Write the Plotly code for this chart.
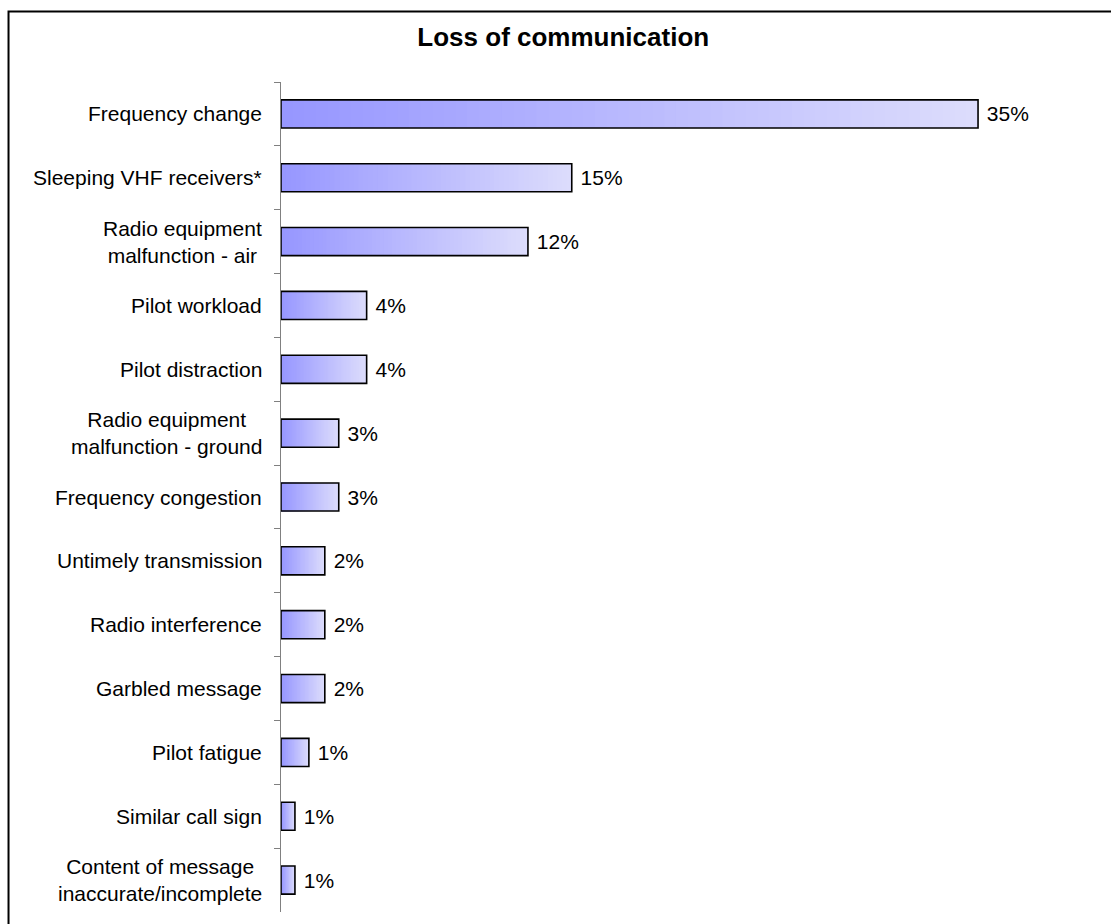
import plotly.graph_objects as go

# Causes of loss of communication, share of reports (%)
categories = [
    "Frequency change",
    "Sleeping VHF receivers*",
    "Radio equipment<br>malfunction - air",
    "Pilot workload",
    "Pilot distraction",
    "Radio equipment<br>malfunction - ground",
    "Frequency congestion",
    "Untimely transmission",
    "Radio interference",
    "Garbled message",
    "Pilot fatigue",
    "Similar call sign",
    "Content of message<br>inaccurate/incomplete",
]
shares = [35.0, 14.6, 12.4, 4.3, 4.3, 2.9, 2.9, 2.2, 2.2, 2.2, 1.4, 0.7, 0.7]

FONT = "Liberation Sans, Arial, sans-serif"
DARK = (150, 150, 255)
LIGHT = (221, 221, 252)
N_STEPS = 60


def lerp(t):
    return "rgb({},{},{})".format(*[round(a + (b - a) * t) for a, b in zip(DARK, LIGHT)])


fig = go.Figure()

# Horizontal gradient: overlaid bars of decreasing length, each one darker,
# so the visible strip of each bar carries one step of the ramp.
for i in range(N_STEPS):
    frac = (N_STEPS - i) / N_STEPS
    k = N_STEPS - i - 1
    fig.add_trace(go.Bar(
        x=[v * frac for v in shares],
        y=categories,
        orientation="h",
        marker=dict(color=lerp((k + 0.5) / N_STEPS), line=dict(width=0)),
        width=0.44,
        hoverinfo="skip",
        showlegend=False,
    ))

# Outline and value labels
fig.add_trace(go.Bar(
    x=shares,
    y=categories,
    orientation="h",
    marker=dict(color="rgba(0,0,0,0)", line=dict(color="black", width=1.6)),
    width=0.44,
    texttemplate=" %{x:.0f}%",
    textposition="outside",
    textfont=dict(family=FONT, size=21, color="black"),
    cliponaxis=False,
    hoverinfo="skip",
    showlegend=False,
))

# Category labels, centred line by line
for c in categories:
    fig.add_annotation(
        x=0, xref="paper", y=c, yref="y",
        text=c, showarrow=False, xanchor="right", yanchor="middle",
        xshift=-17, align="center",
        font=dict(family=FONT, size=21, color="black"),
    )

# Chart frame
fig.add_shape(
    type="rect", xref="paper", yref="paper",
    x0=-0.3406, x1=1.05, y0=-0.03, y1=1.0849,
    line=dict(color="black", width=2), fillcolor="rgba(0,0,0,0)",
)

fig.update_layout(
    width=1111, height=924,
    margin=dict(l=281, r=30, t=82, b=12),
    barmode="overlay",
    plot_bgcolor="white", paper_bgcolor="white",
    title=dict(
        text="<b>Loss of communication</b>",
        x=0.507, xref="container", xanchor="center",
        y=0.96, yref="container", yanchor="middle",
        font=dict(family=FONT, size=26, color="black"),
    ),
    font=dict(family=FONT, size=21, color="black"),
)
fig.update_xaxes(range=[0, 40.17], visible=False)
fig.update_yaxes(
    categoryorder="array", categoryarray=categories, autorange="reversed",
    showline=True, linecolor="#808080", linewidth=1,
    ticks="outside", tickson="boundaries", ticklen=6, tickcolor="#808080",
    showticklabels=False, showgrid=False, zeroline=False,
)

fig.write_html("out.html", config={"displayModeBar": False})
